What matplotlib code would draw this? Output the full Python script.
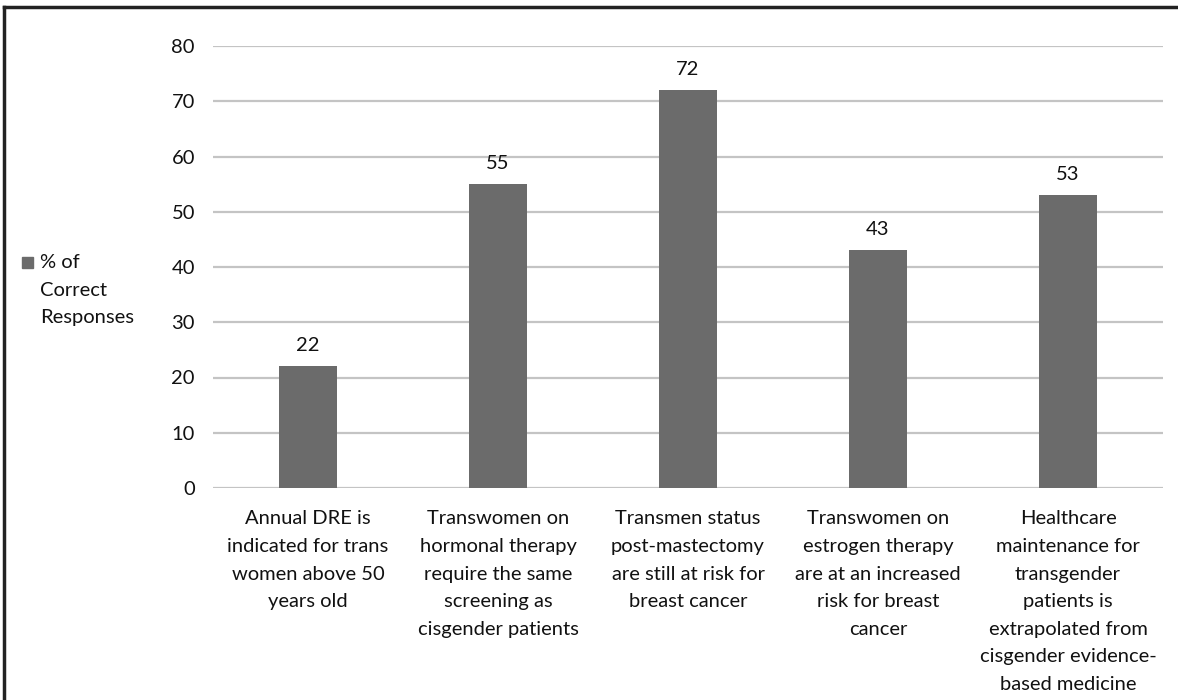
import matplotlib
matplotlib.use("Agg")
import matplotlib.pyplot as plt
from matplotlib.lines import Line2D
from matplotlib.patches import Rectangle

plt.rcParams['font.family'] = ['Lato', 'DejaVu Sans']

categories = [
    "Annual DRE is\nindicated for trans\nwomen above 50\nyears old",
    "Transwomen on\nhormonal therapy\nrequire the same\nscreening as\ncisgender patients",
    "Transmen status\npost-mastectomy\nare still at risk for\nbreast cancer",
    "Transwomen on\nestrogen therapy\nare at an increased\nrisk for breast\ncancer",
    "Healthcare\nmaintenance for\ntransgender\npatients is\nextrapolated from\ncisgender evidence-\nbased medicine",
]
values = [22, 55, 72, 43, 53]
yticks = [0, 10, 20, 30, 40, 50, 60, 70, 80]
series_name = "% of\nCorrect\nResponses"

W, H = 1178, 700
FS = 14.5
LS = 1.76
fig = plt.figure(figsize=(W / 100, H / 100), dpi=100)
ax = fig.add_axes([213 / W, 1 - 488 / H, (1163 - 213) / W, (488 - 46) / H])

bar_color = "#6b6b6b"
x = list(range(len(values)))
ax.bar(x, values, width=0.31, color=bar_color, zorder=3)

ax.set_xlim(-0.5, len(values) - 0.5)
ax.set_ylim(0, 80)
ax.set_yticks(yticks)
ax.yaxis.grid(True, color="#c4c4c4", linewidth=1.6, zorder=0)
ax.set_axisbelow(True)
for s in ax.spines.values():
    s.set_visible(False)
ax.tick_params(axis="both", length=0, labelsize=FS, colors="#111111")
ax.tick_params(axis="y", pad=13)
ax.set_xticks(x)
ax.set_xticklabels(categories, fontsize=FS, linespacing=LS, va="top")
ax.tick_params(axis="x", pad=16)

for xi, v in zip(x, values):
    ax.annotate(f"{v}", (xi, v), xytext=(0, 9), textcoords="offset points",
                ha="center", va="bottom", fontsize=FS, color="#111111")

# legend on the left
fig.patches.append(Rectangle((22 / W, 1 - 268 / H), 11 / W, 11 / H,
                             transform=fig.transFigure, color=bar_color))
fig.text(40 / W, 1 - 254 / H, series_name, ha="left", va="top",
         fontsize=FS, linespacing=LS, color="#111111")

# outer frame (top and left edges)
fig.add_artist(Line2D([4 / W, 1], [1 - 7 / H, 1 - 7 / H], transform=fig.transFigure,
                      color="#222222", linewidth=2.5))
fig.add_artist(Line2D([4 / W, 4 / W], [0, 1 - 7 / H], transform=fig.transFigure,
                      color="#222222", linewidth=2.5))

fig.savefig("out.png", dpi=100)
